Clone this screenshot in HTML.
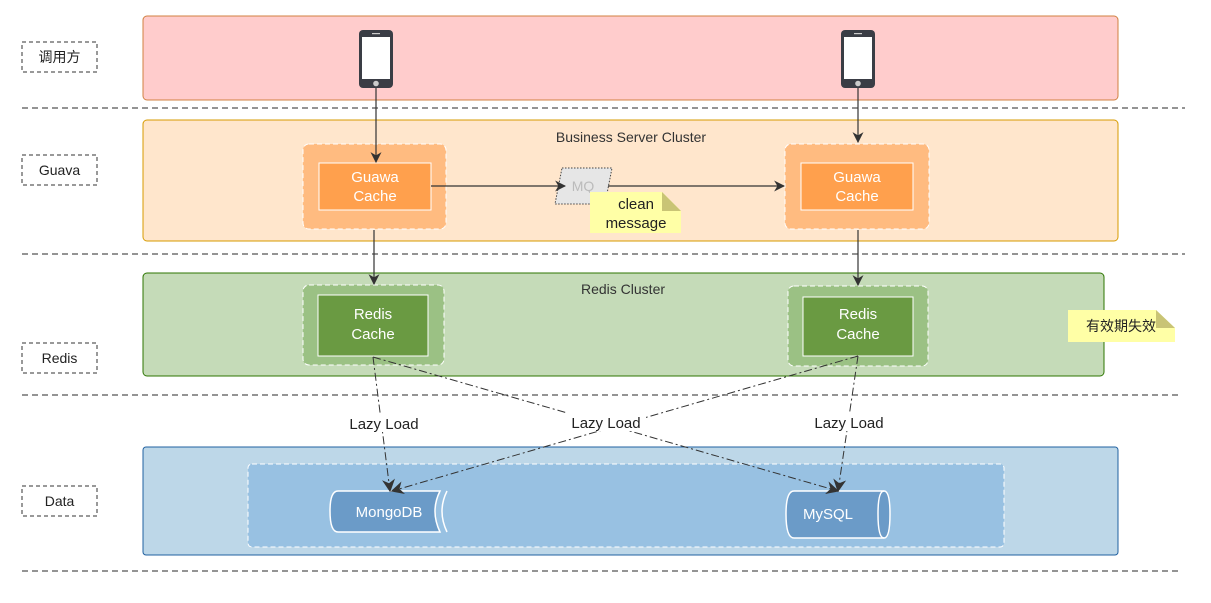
<!DOCTYPE html>
<html><head><meta charset="utf-8"><style>
html,body{margin:0;padding:0;background:#fff;}
svg text{font-family:"Liberation Sans","Noto Sans CJK SC",sans-serif;}
</style></head><body>
<svg width="1211" height="598" viewBox="0 0 1211 598" xmlns="http://www.w3.org/2000/svg">
<defs>
<marker id="a" viewBox="0 0 10 10" refX="9" refY="5" markerWidth="11" markerHeight="11" orient="auto" markerUnits="userSpaceOnUse"><path d="M0,0 L10,5 L0,10 L3,5 z" fill="#333"/></marker>
<marker id="b" viewBox="0 0 10 10" refX="9" refY="5" markerWidth="13" markerHeight="13" orient="auto" markerUnits="userSpaceOnUse"><path d="M0,0 L10,5 L0,10 L3,5 z" fill="#333"/></marker>
<g id="phone"><rect x="-17" y="0" width="34" height="58" rx="4" fill="#3a3d45"/><rect x="-14" y="7" width="28" height="42" fill="#fff"/><rect x="-4" y="3" width="8" height="1.2" fill="#ccc"/><circle cx="0" cy="53.5" r="2.8" fill="#ccc"/></g>
</defs>
<g stroke="#555" stroke-width="1.2" stroke-dasharray="6,4" fill="none">
<line x1="22" y1="108" x2="1185" y2="108"/><line x1="22" y1="254" x2="1185" y2="254"/>
<line x1="22" y1="395" x2="1180" y2="395"/><line x1="22" y1="571" x2="1180" y2="571"/>
</g>
<g fill="#fff" stroke="#333" stroke-width="1" stroke-dasharray="4,3">
<rect x="22" y="42" width="75" height="30"/><rect x="22" y="155" width="75" height="30"/>
<rect x="22" y="343" width="75" height="30"/><rect x="22" y="486" width="75" height="30"/>
</g>
<g font-size="14" fill="#222" text-anchor="middle">
<text x="59.5" y="62">调用方</text><text x="59.5" y="175">Guava</text>
<text x="59.5" y="363">Redis</text><text x="59.5" y="506">Data</text>
</g>
<rect x="143" y="16" width="975" height="84" rx="4" fill="#ffcccc" stroke="#d08040"/>
<rect x="143" y="120" width="975" height="121" rx="4" fill="#ffe6cc" stroke="#d79b00"/>
<rect x="143" y="273" width="961" height="103" rx="4" fill="#c5dbb8" stroke="#2d7600"/>
<rect x="143" y="447" width="975" height="108" rx="3" fill="#bdd7e8" stroke="#2060a0"/>
<rect x="248" y="464" width="756" height="83" rx="4" fill="#98c1e2" stroke="#fff" stroke-dasharray="5,3"/>
<text x="631" y="142" font-size="14" fill="#333" text-anchor="middle">Business Server Cluster</text>
<text x="623" y="294" font-size="14" fill="#333" text-anchor="middle">Redis Cluster</text>
<use href="#phone" x="376" y="30"/><use href="#phone" x="858" y="30"/>
<g fill="#ffbb80" stroke="#fff" stroke-dasharray="5,3"><rect x="303" y="144" width="143" height="85" rx="6"/><rect x="785" y="144" width="144" height="85" rx="6"/></g>
<g fill="#ffa04d" stroke="#fff"><rect x="319" y="163" width="112" height="47"/><rect x="801" y="163" width="112" height="47"/></g>
<g font-size="15" fill="#fff" text-anchor="middle"><text x="375" y="182">Guawa</text><text x="375" y="201">Cache</text><text x="857" y="182">Guawa</text><text x="857" y="201">Cache</text></g>
<g fill="#9bc184" stroke="#fff" stroke-dasharray="5,3"><rect x="303" y="285" width="141" height="80" rx="6"/><rect x="788" y="286" width="140" height="80" rx="6"/></g>
<g fill="#6a9a42" stroke="#fff"><rect x="318" y="295" width="110" height="61"/><rect x="803" y="297" width="110" height="59"/></g>
<g font-size="15" fill="#fff" text-anchor="middle"><text x="373" y="319">Redis</text><text x="373" y="339">Cache</text><text x="858" y="319">Redis</text><text x="858" y="339">Cache</text></g>
<path d="M562,168 L612,168 L605,204 L555,204 z" fill="#e6e6e6" stroke="#444" stroke-dasharray="1.5,1.5"/>
<text x="583" y="191" font-size="14" fill="#bbb" text-anchor="middle">MQ</text>
<path d="M590,192 L662,192 L681,211 L681,233 L590,233 z" fill="#ffffa6"/><path d="M662,192 L681,211 L662,211 z" fill="#c9c475"/>
<text x="636" y="209" font-size="15" fill="#222" text-anchor="middle">clean</text><text x="636" y="228" font-size="15" fill="#222" text-anchor="middle">message</text>
<path d="M1068,310 L1156,310 L1175,328 L1175,342 L1068,342 z" fill="#ffffa6"/><path d="M1156,310 L1175,328 L1156,328 z" fill="#c9c475"/>
<text x="1121" y="331" font-size="14" fill="#222" text-anchor="middle">有效期失效</text>
<g stroke="#333" stroke-width="1.2" fill="none">
<line x1="376" y1="88" x2="376" y2="162" marker-end="url(#a)"/>
<line x1="858" y1="88" x2="858" y2="142" marker-end="url(#a)"/>
<line x1="431" y1="186" x2="565" y2="186" marker-end="url(#a)"/>
<line x1="608" y1="186" x2="784" y2="186" marker-end="url(#a)"/>
<line x1="374" y1="230" x2="374" y2="284" marker-end="url(#a)"/>
<line x1="858" y1="230" x2="858" y2="285" marker-end="url(#a)"/>
</g>
<path d="M338,491 L440,491 Q430,511 440,532 L338,532 Q330,532 330,511 Q330,491 338,491 z" fill="#6b9bc8" stroke="#fff" stroke-width="1.5"/>
<path d="M447,491 Q437,511 447,532" fill="none" stroke="#fff" stroke-width="1.5"/>
<text x="389" y="517" font-size="15" fill="#fff" text-anchor="middle">MongoDB</text>
<path d="M794,491 L884,491 Q890,491 890,514 Q890,538 884,538 L794,538 Q786,538 786,514 Q786,491 794,491 z" fill="#6b9bc8" stroke="#fff" stroke-width="1.5"/>
<path d="M884,491 Q878,491 878,514 Q878,538 884,538" fill="none" stroke="#fff" stroke-width="1.5"/>
<text x="828" y="519" font-size="15" fill="#fff" text-anchor="middle">MySQL</text>
<g stroke="#333" stroke-width="1" fill="none" stroke-dasharray="8,3,2,3">
<line x1="373" y1="357" x2="390" y2="491" marker-end="url(#b)"/>
<line x1="373" y1="357" x2="838" y2="491" marker-end="url(#b)"/>
<line x1="858" y1="356" x2="392" y2="491" marker-end="url(#b)"/>
<line x1="858" y1="356" x2="838" y2="491" marker-end="url(#b)"/>
</g>
<g font-size="15" fill="#222" text-anchor="middle">
<rect x="344" y="413" width="80" height="19" fill="#fff"/><text x="384" y="429">Lazy Load</text>
<rect x="566" y="412" width="80" height="19" fill="#fff"/><text x="606" y="428">Lazy Load</text>
<rect x="809" y="412" width="80" height="19" fill="#fff"/><text x="849" y="428">Lazy Load</text>
</g>
</svg>
</body></html>
